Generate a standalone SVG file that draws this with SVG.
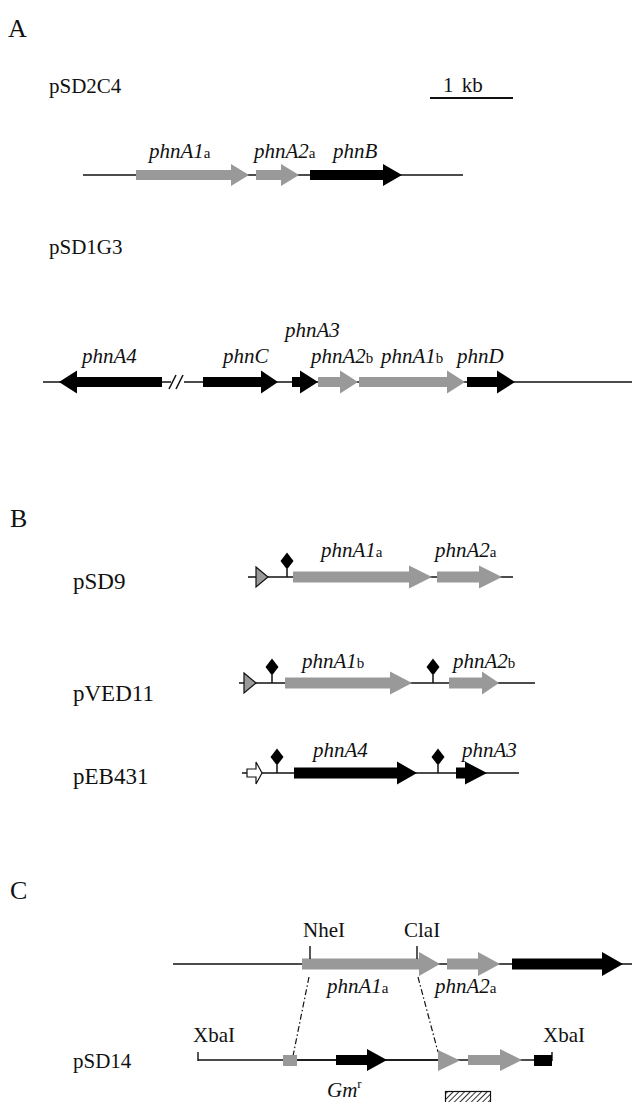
<svg xmlns="http://www.w3.org/2000/svg" width="632" height="1102" viewBox="0 0 632 1102">
  <style>
    .bg { fill: #ffffff; }
    .t { font-family: "Liberation Serif", "Times New Roman", serif; font-size: 21px; fill: #111; }
    .tb { font-family: "Liberation Serif", "Times New Roman", serif; font-size: 23px; fill: #111; }
    .sec { font-family: "Liberation Serif", "Times New Roman", serif; font-size: 26px; fill: #111; }
    .g { font-family: "Liberation Serif", "Times New Roman", serif; font-size: 21px; font-style: italic; fill: #111; }
    .sub { font-style: normal; font-size: 15px; }
    .dna { stroke: #111; stroke-width: 1.6; fill: none; }
    .grey { fill: #999999; }
    .blk { fill: #000000; }
    .tick { stroke: #111; stroke-width: 1.4; fill: none; }
    .term { fill: #000; }
    .prom { fill: #999999; stroke: #111; stroke-width: 1.2; }
    .promw { fill: #ffffff; stroke: #111; stroke-width: 1.2; }
    .dd { stroke: #111; stroke-width: 1.2; stroke-dasharray: 6 2.5 1.5 2.5; fill: none; }
  </style>
  <defs>
    <pattern id="hatch" width="4" height="4" patternUnits="userSpaceOnUse" patternTransform="rotate(45)">
      <rect width="4" height="4" fill="#ffffff"/>
      <line x1="0" y1="0" x2="0" y2="4" stroke="#333" stroke-width="2"/>
    </pattern>
    <!-- terminator: stem plus diamond, origin on the DNA line -->
    <g id="terminator">
      <line x1="0" y1="0" x2="0" y2="-8" stroke="#111" stroke-width="1.5"/>
      <polygon points="0,-24.5 6.5,-16 0,-7.5 -6.5,-16" class="term"/>
    </g>
  </defs>
  <rect class="bg" x="0" y="0" width="632" height="1102"/>

  <!-- ============ Panel A ============ -->
  <text class="sec" x="8" y="37">A</text>
  <text class="t" x="49" y="93">pSD2C4</text>
  <g id="scale-bar">
    <text class="t" x="443" y="92" word-spacing="3">1 kb</text>
    <line x1="430" y1="98" x2="513" y2="98" stroke="#111" stroke-width="2"/>
  </g>

  <g id="pSD2C4">
    <line class="dna" x1="83" y1="175" x2="463" y2="175"/>
    <g id="pSD2C4-phnA1a">
      <polygon class="grey" points="136,170 231,170 231,164 249,175 231,186 231,180 136,180"/>
      <text class="g" x="149" y="158">phnA1<tspan class="sub">a</tspan></text>
    </g>
    <g id="pSD2C4-phnA2a">
      <polygon class="grey" points="256,170 281,170 281,164 299,175 281,186 281,180 256,180"/>
      <text class="g" x="254" y="158">phnA2<tspan class="sub">a</tspan></text>
    </g>
    <g id="pSD2C4-phnB">
      <polygon class="blk" points="310,170 383,170 383,164 402,175 383,186 383,180 310,180"/>
      <text class="g" x="333" y="158">phnB</text>
    </g>
  </g>

  <text class="t" x="49" y="254">pSD1G3</text>
  <g id="pSD1G3">
    <line class="dna" x1="43" y1="382" x2="171" y2="382"/>
    <line class="dna" x1="184" y1="382" x2="632" y2="382"/>
    <g id="break">
      <line x1="169" y1="389" x2="176" y2="375" stroke="#111" stroke-width="1.5"/>
      <line x1="176" y1="389" x2="183" y2="375" stroke="#111" stroke-width="1.5"/>
    </g>
    <g id="pSD1G3-phnA4">
      <polygon class="blk" points="59,382 77,370.5 77,377 162,377 162,387 77,387 77,393.5"/>
      <text class="g" x="82" y="363">phnA4</text>
    </g>
    <g id="pSD1G3-phnC">
      <polygon class="blk" points="203,377 261,377 261,370.5 278,382 261,393.5 261,387 203,387"/>
      <text class="g" x="223" y="363">phnC</text>
    </g>
    <g id="pSD1G3-phnA3">
      <polygon class="blk" points="292,377 300,377 300,370.5 318,382 300,393.5 300,387 292,387"/>
      <text class="g" x="285" y="337">phnA3</text>
    </g>
    <g id="pSD1G3-phnA2b">
      <polygon class="grey" points="318,377 340,377 340,370.5 358,382 340,393.5 340,387 318,387"/>
      <text class="g" x="311" y="363">phnA2<tspan class="sub">b</tspan></text>
    </g>
    <g id="pSD1G3-phnA1b">
      <polygon class="grey" points="359,377 447,377 447,370.5 465,382 447,393.5 447,387 359,387"/>
      <text class="g" x="381" y="363">phnA1<tspan class="sub">b</tspan></text>
    </g>
    <g id="pSD1G3-phnD">
      <polygon class="blk" points="467,377 497,377 497,370.5 515,382 497,393.5 497,387 467,387"/>
      <text class="g" x="457" y="363">phnD</text>
    </g>
  </g>

  <!-- ============ Panel B ============ -->
  <text class="sec" x="10" y="527">B</text>

  <text class="tb" x="73" y="589">pSD9</text>
  <g id="pSD9">
    <line class="dna" x1="248" y1="577" x2="513" y2="577"/>
    <polygon class="prom" points="256,567 268,577 256,587"/>
    <use href="#terminator" x="287" y="577"/>
    <g id="pSD9-phnA1a">
      <polygon class="grey" points="293,571.5 409,571.5 409,565.5 432,577 409,588.5 409,582.5 293,582.5"/>
      <text class="g" x="321" y="557">phnA1<tspan class="sub">a</tspan></text>
    </g>
    <g id="pSD9-phnA2a">
      <polygon class="grey" points="437,571.5 479,571.5 479,565.5 502,577 479,588.5 479,582.5 437,582.5"/>
      <text class="g" x="435" y="557">phnA2<tspan class="sub">a</tspan></text>
    </g>
  </g>

  <text class="tb" x="73" y="701">pVED11</text>
  <g id="pVED11">
    <line class="dna" x1="239" y1="683" x2="535" y2="683"/>
    <polygon class="prom" points="244,673 256,683 244,693"/>
    <use href="#terminator" x="272" y="683"/>
    <use href="#terminator" x="433" y="683"/>
    <g id="pVED11-phnA1b">
      <polygon class="grey" points="285,677.5 390,677.5 390,671.5 412,683 390,694.5 390,688.5 285,688.5"/>
      <text class="g" x="302" y="668">phnA1<tspan class="sub">b</tspan></text>
    </g>
    <g id="pVED11-phnA2b">
      <polygon class="grey" points="449,677.5 482,677.5 482,671.5 499,683 482,694.5 482,688.5 449,688.5"/>
      <text class="g" x="453" y="668">phnA2<tspan class="sub">b</tspan></text>
    </g>
  </g>

  <text class="tb" x="73" y="784">pEB431</text>
  <g id="pEB431">
    <line class="dna" x1="242" y1="773" x2="519" y2="773"/>
    <polygon class="promw" points="247,769 256,769 256,762 262,773 256,784 256,777 247,777"/>
    <use href="#terminator" x="277" y="773"/>
    <use href="#terminator" x="438" y="773"/>
    <g id="pEB431-phnA4">
      <polygon class="blk" points="294,767.5 397,767.5 397,761.5 417,773 397,784.5 397,778.5 294,778.5"/>
      <text class="g" x="313" y="757">phnA4</text>
    </g>
    <g id="pEB431-phnA3">
      <polygon class="blk" points="456,767.5 465,767.5 465,761.5 487,773 465,784.5 465,778.5 456,778.5"/>
      <text class="g" x="462" y="757">phnA3</text>
    </g>
  </g>

  <!-- ============ Panel C ============ -->
  <text class="sec" x="10" y="899">C</text>

  <g id="locus">
    <line class="dna" x1="173" y1="964" x2="632" y2="964"/>
    <g id="locus-phnA1a">
      <polygon class="grey" points="302,958.5 419,958.5 419,952 440,964 419,976 419,969.5 302,969.5"/>
      <text class="g" x="327" y="993">phnA1<tspan class="sub">a</tspan></text>
    </g>
    <g id="locus-phnA2a">
      <polygon class="grey" points="447,958.5 478,958.5 478,952 500,964 478,976 478,969.5 447,969.5"/>
      <text class="g" x="435" y="993">phnA2<tspan class="sub">a</tspan></text>
    </g>
    <g id="locus-phnB">
      <polygon class="blk" points="512,958.5 602,958.5 602,952 623,964 602,976 602,969.5 512,969.5"/>
    </g>
    <g id="NheI">
      <line class="tick" x1="310" y1="946" x2="310" y2="959"/>
      <text class="t" x="303" y="937">NheI</text>
    </g>
    <g id="ClaI">
      <line class="tick" x1="417" y1="946" x2="417" y2="959"/>
      <text class="t" x="404" y="937">ClaI</text>
    </g>
  </g>

  <g id="connectors">
    <line class="dd" x1="309" y1="977" x2="293" y2="1056"/>
    <line class="dd" x1="418" y1="977" x2="438" y2="1052"/>
  </g>

  <text class="t" x="73" y="1068">pSD14</text>
  <g id="pSD14">
    <line class="dna" x1="198" y1="1060" x2="552" y2="1060" stroke-width="1.4"/>
    <line class="dna" x1="297" y1="1060" x2="440" y2="1060" stroke-width="2"/>
    <line class="tick" x1="198" y1="1052" x2="198" y2="1061"/>
    <line class="tick" x1="552" y1="1052" x2="552" y2="1061"/>
    <rect class="grey" x="283" y="1055" width="14" height="11"/>
    <g id="Gmr">
      <polygon class="blk" points="336,1055 367,1055 367,1049 387,1060 367,1071 367,1065 336,1065"/>
      <text class="g" x="327" y="1097">Gm<tspan font-style="normal" font-size="13" dy="-9">r</tspan></text>
    </g>
    <polygon class="grey" points="438,1050 460,1060.5 438,1071"/>
    <polygon class="grey" points="468,1055 500,1055 500,1049 522,1060 500,1071 500,1065 468,1065"/>
    <rect class="blk" x="534" y="1055" width="18" height="11"/>
    <text class="t" x="193" y="1042">XbaI</text>
    <text class="t" x="543" y="1042">XbaI</text>
    <rect x="445.5" y="1091.5" width="45" height="12" fill="url(#hatch)" stroke="#111" stroke-width="1.2"/>
  </g>
</svg>
